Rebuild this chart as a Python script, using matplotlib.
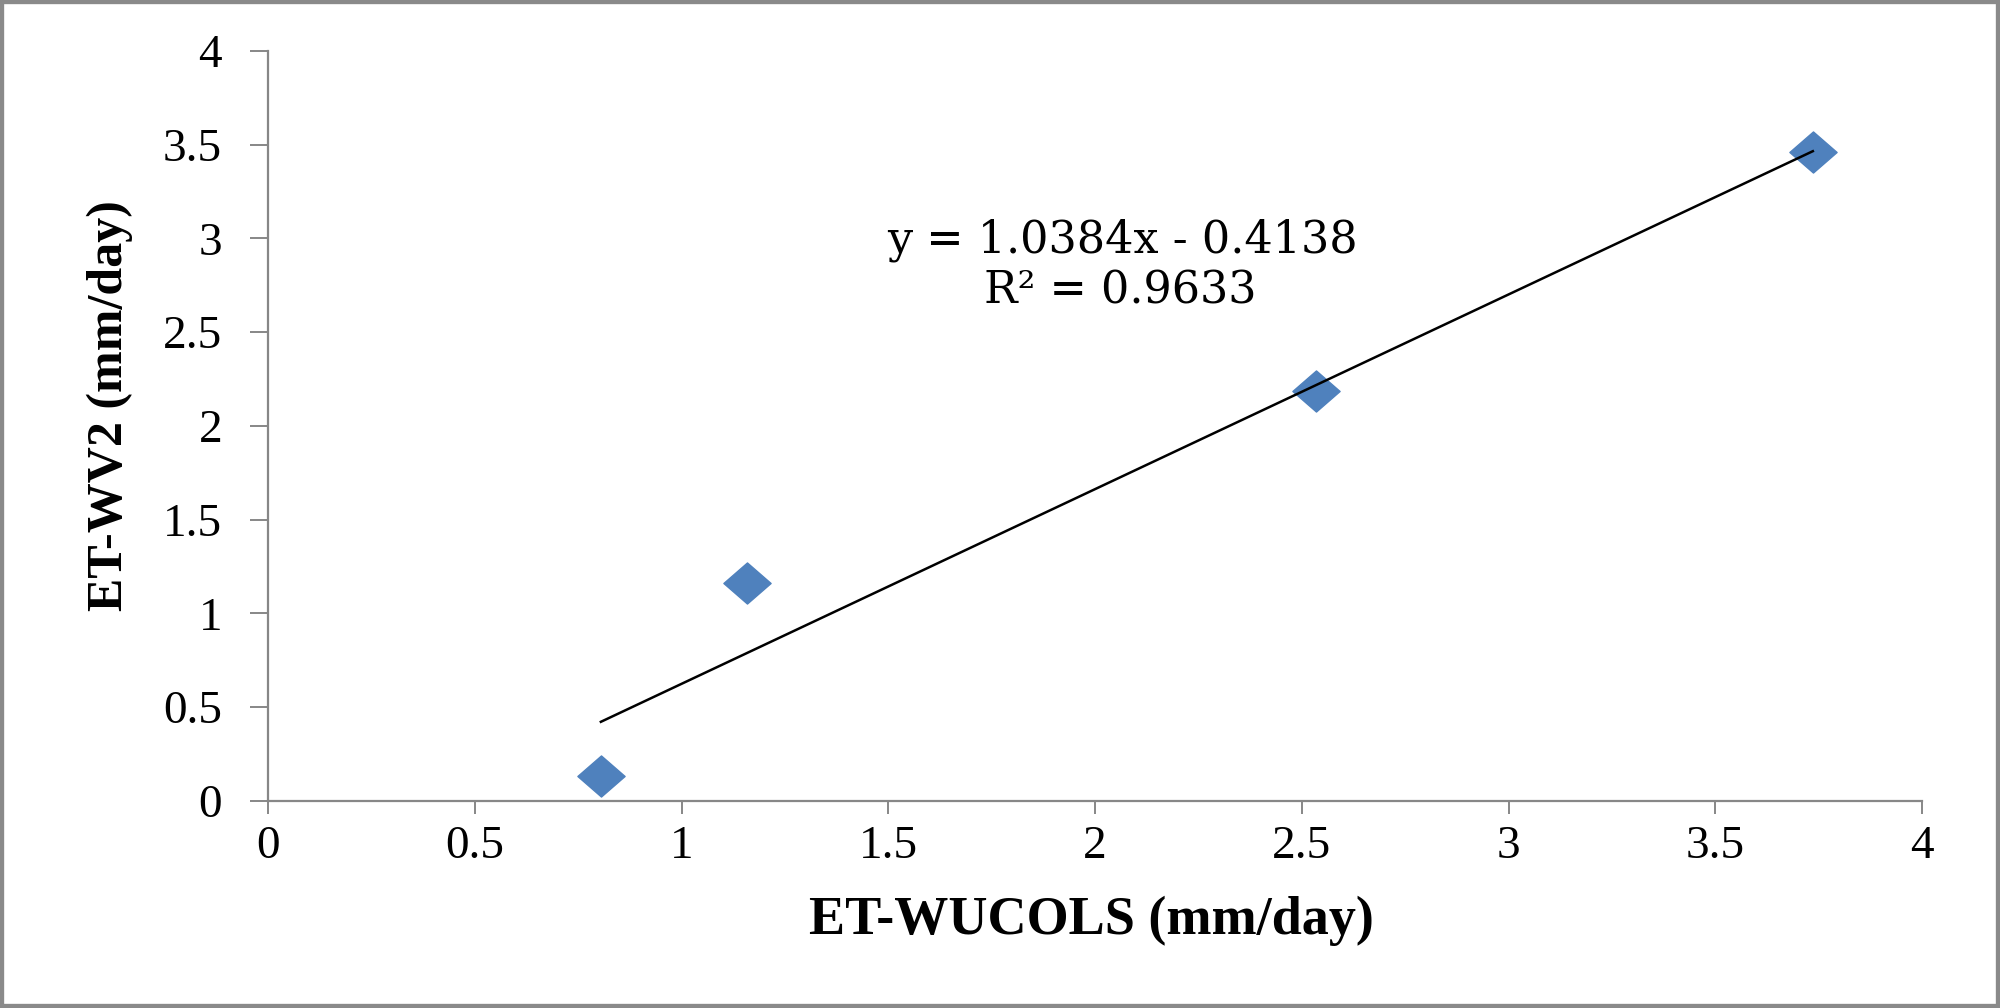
import matplotlib.pyplot as plt
from matplotlib.patches import Rectangle
from matplotlib.path import Path

# values
et_wucols = [0.805, 1.158, 2.534, 3.736]
et_wv2 = [0.135, 1.163, 2.187, 3.461]
slope = 1.0384
intercept = -0.4138
r2 = 0.9633
ticks = [0, 0.5, 1, 1.5, 2, 2.5, 3, 3.5, 4]
tick_labels = ['0', '0.5', '1', '1.5', '2', '2.5', '3', '3.5', '4']

blue = '#4F81BD'
gray = '#878787'

fig = plt.figure(figsize=(20, 10.08), dpi=100)
ax = fig.add_axes([0.134, 0.2054, 0.827, 0.744])

# slightly wide diamond like the excel marker
diamond = Path([(-1.15, 0), (0, 1), (1.15, 0), (0, -1), (-1.15, 0)],
               [Path.MOVETO, Path.LINETO, Path.LINETO, Path.LINETO,
                Path.CLOSEPOLY])
ax.plot(et_wucols, et_wv2, linestyle='none', marker=diamond, ms=34,
        color=blue, mec=blue, zorder=3)

x0, x1 = min(et_wucols), max(et_wucols)
ax.plot([x0, x1], [slope * x0 + intercept, slope * x1 + intercept],
        color='black', lw=1.8, zorder=4)

ax.set_xlim(0, 4)
ax.set_ylim(0, 4)
ax.set_xticks(ticks)
ax.set_xticklabels(tick_labels)
ax.set_yticks(ticks)
ax.set_yticklabels(tick_labels)

for side in ['top', 'right']:
    ax.spines[side].set_visible(False)
for side in ['left', 'bottom']:
    ax.spines[side].set_color(gray)
    ax.spines[side].set_linewidth(1.6)

ax.tick_params(axis='x', direction='out', length=9, width=1.4, color=gray,
               pad=9)
ax.tick_params(axis='y', direction='out', length=13, width=1.4, color=gray,
               pad=20)
for lab in ax.get_xticklabels() + ax.get_yticklabels():
    lab.set_fontfamily('Liberation Serif')
    lab.set_fontsize(34)

fig.text(0.5456, 0.0863, 'ET-WUCOLS (mm/day)', ha='center', va='center',
         family='Liberation Serif', weight='bold', size=39)
fig.text(0.055, 0.598, 'ET-WV2 (mm/day)', ha='center', va='center',
         rotation=90, family='Liberation Serif', weight='bold', size=36)

fig.text(0.561, 0.762, 'y = %.4fx - %.4f' % (slope, abs(intercept)),
         ha='center', va='center', family='DejaVu Serif', size=32)
fig.text(0.560, 0.711, 'R\u00b2 = %.4f' % r2,
         ha='center', va='center', family='DejaVu Serif', size=32)

fig.patches.append(Rectangle((0, 0), 1, 1, transform=fig.transFigure,
                             fill=False, edgecolor='#8a8a8a', linewidth=6,
                             zorder=10))

fig.savefig('out.png', dpi=100)
